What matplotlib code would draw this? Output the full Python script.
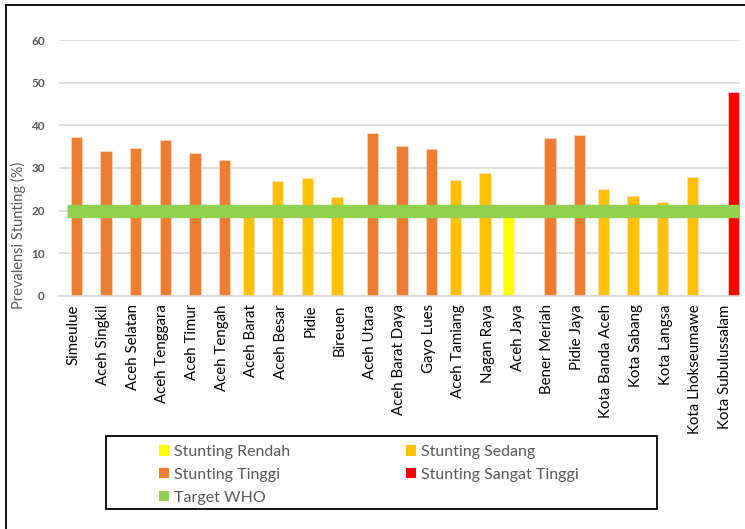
import numpy as np
import matplotlib
matplotlib.use('Agg')
import matplotlib.pyplot as plt
from matplotlib.patches import Patch, Rectangle
from matplotlib.lines import Line2D

plt.rcParams['font.family'] = ['Lato', 'DejaVu Sans']

# data
regions = ['Simeulue', 'Aceh Singkil', 'Aceh Selatan', 'Aceh Tenggara', 'Aceh Timur',
           'Aceh Tengah', 'Aceh Barat', 'Aceh Besar', 'Pidie', 'Bireuen', 'Aceh Utara',
           'Aceh Barat Daya', 'Gayo Lues', 'Aceh Tamiang', 'Nagan Raya', 'Aceh Jaya',
           'Bener Meriah', 'Pidie Jaya', 'Kota Banda Aceh', 'Kota Sabang', 'Kota Langsa',
           'Kota Lhokseumawe', 'Kota Subulussalam']
prevalence = [37.2, 33.9, 34.8, 36.6, 33.5, 31.9, 20.5, 26.9, 27.7, 23.3, 38.3,
              35.2, 34.5, 27.3, 28.8, 19.0, 37.0, 37.7, 25.0, 23.4, 22.0, 28.0, 47.8]
# class of each region: R = rendah, S = sedang, T = tinggi, ST = sangat tinggi
status = ['T', 'T', 'T', 'T', 'T', 'T', 'S', 'S', 'S', 'S', 'T',
          'T', 'T', 'S', 'S', 'R', 'T', 'T', 'S', 'S', 'S', 'S', 'ST']
classes = ['R', 'S', 'T', 'ST']
class_labels = ['Stunting Rendah', 'Stunting Sedang', 'Stunting Tinggi', 'Stunting Sangat Tinggi']
class_colors = ['#FFFF00', '#FFC000', '#ED7D31', '#FF0000']
who_target = 20
who_label = 'Target WHO'

W, H = 745, 529
fig = plt.figure(figsize=(W / 100, H / 100), dpi=100)
ax = fig.add_axes([58.75 / W, 1 - 296 / H, 680.8 / W, 256 / H])

x = np.arange(len(regions))
vals = np.array(prevalence)
stat = np.array(status)
for k, (c, col) in enumerate(zip(classes, class_colors)):
    v = np.where(stat == c, vals, 0)
    ax.bar(x + (k - 1.5) * 0.2, v, width=0.38, color=col, edgecolor='#FBE5D6',
           linewidth=0.4, zorder=2)

# WHO target band, runs from just left of the first bar to the right edge
ax.axhline(who_target, xmin=0.0126, xmax=1.0, color='#92D050', lw=9.6,
           solid_capstyle='butt', zorder=3)

ax.set_xlim(-0.5, len(x) - 0.5)
ax.set_ylim(0, 60)
ax.set_yticks(range(0, 61, 10))
ax.yaxis.grid(True, color='#D9D9D9', lw=1.2, zorder=0)
ax.set_axisbelow(True)
for s in ['top', 'right', 'left']:
    ax.spines[s].set_visible(False)
ax.spines['bottom'].set_color('#D9D9D9')
ax.spines['bottom'].set_linewidth(1.2)
ax.tick_params(axis='both', length=0)
ax.tick_params(axis='y', pad=10, labelsize=8.5, labelcolor='#595959')
for t in ax.get_yticklabels():
    t.set_fontweight('bold')
ax.set_xticks(x)
ax.set_xticklabels(regions, rotation=90, fontsize=10.8, color='#000000')
ax.tick_params(axis='x', pad=6)

fig.text(18 / W, 1 - 235 / H, 'Prevalensi Stunting (%)', rotation=90, ha='center',
         va='center', fontsize=10.5, color='#595959')

# legend box
fig.patches.append(Rectangle((106 / W, 1 - 509.3 / H), (657.3 - 106) / W, (509.3 - 435.7) / H,
                             transform=fig.transFigure, fill=False, ec='black', lw=1.3))
# column-major order so rows read Rendah/Sedang, Tinggi/Sangat Tinggi, WHO
handles = []
for i in [0, 2]:
    handles.append(Patch(facecolor=class_colors[i], edgecolor='none', label=class_labels[i]))
handles.append(Patch(facecolor='#92D050', edgecolor='none', label=who_label))
for i in [1, 3]:
    handles.append(Patch(facecolor=class_colors[i], edgecolor='none', label=class_labels[i]))
leg = fig.legend(handles=handles, ncol=2, loc='upper left',
                 bbox_to_anchor=(151 / W, 1 - 437 / H), frameon=False, fontsize=11.5,
                 handlelength=0.62, handleheight=0.62, handletextpad=0.3,
                 columnspacing=7.3, labelspacing=0.55, borderpad=0)
for t in leg.get_texts():
    t.set_color('#595959')

# outer frame lines
fig.add_artist(Line2D([6 / W, 6 / W], [0, 1 - 4.5 / H], transform=fig.transFigure,
                      color='black', lw=1.3))
fig.add_artist(Line2D([6 / W, 1], [1 - 4.5 / H, 1 - 4.5 / H], transform=fig.transFigure,
                      color='black', lw=1.3))

fig.savefig('out.png', dpi=100)
